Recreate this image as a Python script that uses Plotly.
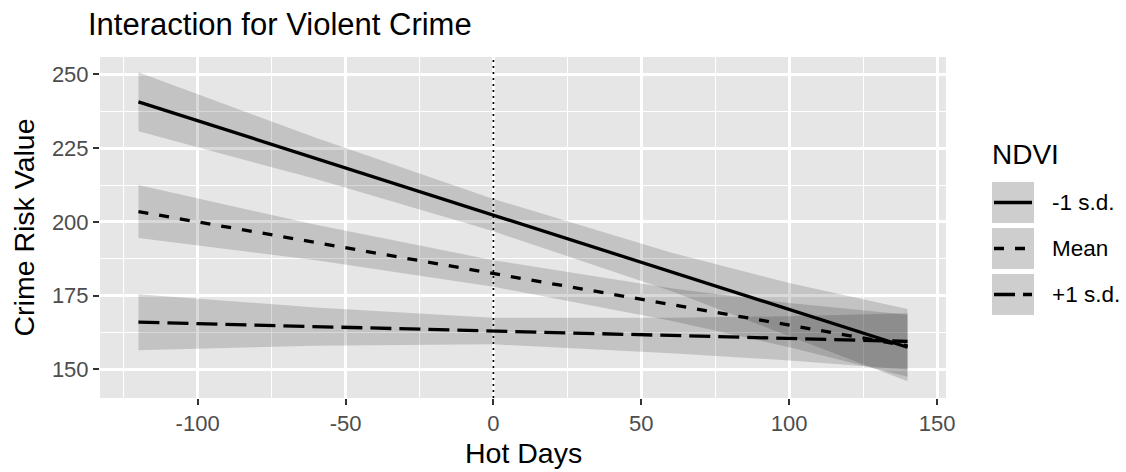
import plotly.graph_objects as go

# ---- data -------------------------------------------------------------
HOT_DAYS = [-120, -60, 0, 60, 100, 140]

GROUPS = ["-1 s.d.", "Mean", "+1 s.d."]

FIT_LOW_NDVI = [240.7, 221.5, 202.3, 183.1, 170.3, 157.5]
UPPER_LOW_NDVI = [250.7, 228.5, 207.8, 189.6, 179.3, 170.5]
LOWER_LOW_NDVI = [230.7, 214.5, 196.8, 176.6, 161.3, 146.0]

FIT_MEAN_NDVI = [203.5, 193.0, 182.5, 172.0, 165.0, 158.0]
UPPER_MEAN_NDVI = [212.5, 199.0, 187.0, 177.5, 172.5, 168.5]
LOWER_MEAN_NDVI = [194.5, 187.0, 178.0, 166.5, 157.5, 147.5]

FIT_HIGH_NDVI = [166.0, 164.5, 163.0, 161.5, 160.5, 159.5]
UPPER_HIGH_NDVI = [175.5, 171.0, 167.5, 167.5, 168.0, 169.0]
LOWER_HIGH_NDVI = [156.5, 158.0, 158.5, 155.5, 153.0, 150.0]

REFERENCE_X = 0

X_TICKS = [-100, -50, 0, 50, 100, 150]
X_TICK_LABELS = ["-100", "-50", "0", "50", "100", "150"]
Y_TICKS = [150, 175, 200, 225, 250]
Y_TICK_LABELS = ["150", "175", "200", "225", "250"]

# ---- styling ----------------------------------------------------------
FONT = "Liberation Sans, Arial, sans-serif"
PANEL_BG = "#E6E6E6"
RIBBON = "rgba(0,0,0,0.15)"
LINE_W = 3.3
DASHES = {"-1 s.d.": "solid", "Mean": "10px,11px", "+1 s.d.": "21px,8px"}

W, H = 1126, 472
L, R, T, B = 100, 180, 57, 74
PW, PH = W - L - R, H - T - B

fits = [FIT_LOW_NDVI, FIT_MEAN_NDVI, FIT_HIGH_NDVI]
uppers = [UPPER_LOW_NDVI, UPPER_MEAN_NDVI, UPPER_HIGH_NDVI]
lowers = [LOWER_LOW_NDVI, LOWER_MEAN_NDVI, LOWER_HIGH_NDVI]

fig = go.Figure()

# confidence ribbons
for name, up, lo in zip(GROUPS, uppers, lowers):
    fig.add_trace(go.Scatter(
        x=HOT_DAYS + HOT_DAYS[::-1],
        y=up + lo[::-1],
        fill="toself", fillcolor=RIBBON,
        line=dict(width=0), mode="lines",
        hoverinfo="skip", showlegend=False,
    ))

# fitted lines
for name, fit in zip(GROUPS, fits):
    fig.add_trace(go.Scatter(
        x=HOT_DAYS, y=fit, mode="lines", name=name,
        line=dict(color="black", width=LINE_W, dash=DASHES[name]),
        showlegend=False,
    ))

# vertical reference line at zero hot days
fig.add_shape(type="line", xref="x", yref="paper",
              x0=REFERENCE_X, x1=REFERENCE_X, y0=0, y1=1,
              line=dict(color="black", width=1.7, dash="2px,4px"))


def px_x(p):
    return (p - L) / PW


def px_y(p):
    return (H - B - p) / PH


# legend drawn by hand: grey keys with line samples
key_x0, key_x1 = 992, 1034
key_rows = [(182, 223), (228, 269), (274, 315)]
for name, (y0, y1) in zip(GROUPS, key_rows):
    fig.add_shape(type="rect", xref="paper", yref="paper",
                  x0=px_x(key_x0), x1=px_x(key_x1), y0=px_y(y1), y1=px_y(y0),
                  fillcolor="#F2F2F2", line=dict(width=0), layer="above")
    fig.add_shape(type="rect", xref="paper", yref="paper",
                  x0=px_x(key_x0), x1=px_x(key_x1), y0=px_y(y1), y1=px_y(y0),
                  fillcolor=RIBBON, line=dict(width=0), layer="above")
    yc = (y0 + y1) / 2
    fig.add_shape(type="line", xref="paper", yref="paper",
                  x0=px_x(key_x0 + 2), x1=px_x(key_x1 - 2),
                  y0=px_y(yc), y1=px_y(yc),
                  line=dict(color="black", width=LINE_W, dash=DASHES[name]),
                  layer="above")
    fig.add_annotation(xref="paper", yref="paper", x=px_x(1050), y=px_y(yc),
                       text=name, showarrow=False, xanchor="left",
                       yanchor="middle",
                       font=dict(family=FONT, size=22.5, color="black"))

fig.add_annotation(xref="paper", yref="paper", x=px_x(990), y=px_y(154),
                   text="NDVI", showarrow=False, xanchor="left",
                   yanchor="middle",
                   font=dict(family=FONT, size=28, color="black"))

# axis titles
fig.add_annotation(xref="paper", yref="paper", x=0.5, y=px_y(453),
                   text="Hot Days", showarrow=False, xanchor="center",
                   yanchor="middle",
                   font=dict(family=FONT, size=28.5, color="black"))
fig.add_annotation(xref="paper", yref="paper", x=px_x(23), y=0.5,
                   text="Crime Risk Value", showarrow=False, textangle=-90,
                   xanchor="center", yanchor="middle",
                   font=dict(family=FONT, size=28.5, color="black"))

axis_common = dict(
    showline=False, zeroline=False,
    showgrid=True, gridcolor="white", gridwidth=2.5,
    ticks="outside", ticklen=6, tickwidth=2, tickcolor="#333333",
    tickfont=dict(family=FONT, size=22, color="#4D4D4D"),
)

fig.update_xaxes(range=[-133, 153], tickvals=X_TICKS, ticktext=X_TICK_LABELS,
                 minor=dict(dtick=25, tick0=-125, showgrid=True,
                            gridcolor="white", gridwidth=1.3, ticks=""),
                 **axis_common)
fig.update_yaxes(range=[140.3, 255.9], tickvals=Y_TICKS, ticktext=Y_TICK_LABELS,
                 minor=dict(dtick=12.5, tick0=137.5, showgrid=True,
                            gridcolor="white", gridwidth=1.3, ticks=""),
                 **axis_common)

fig.update_layout(
    width=W, height=H,
    margin=dict(l=L, r=R, t=T, b=B, pad=0),
    paper_bgcolor="white", plot_bgcolor=PANEL_BG,
    title=dict(text="Interaction for Violent Crime", xref="container",
               yref="container", x=88 / W, xanchor="left",
               y=1 - 24 / H, yanchor="middle",
               font=dict(family=FONT, size=31, color="black")),
    showlegend=False,
)

fig.write_html("out.html")
